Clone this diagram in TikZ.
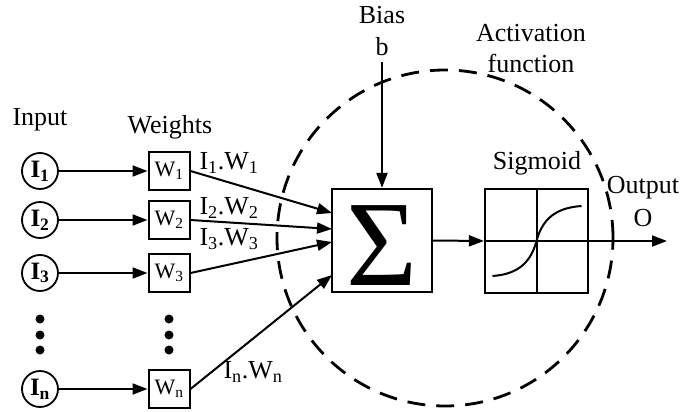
\documentclass[tikz,border=0pt]{standalone}
\usepackage{fontspec}
\setmainfont{Liberation Serif}
\usetikzlibrary{arrows.meta,calc}
\begin{document}
\begin{tikzpicture}[x=1pt,y=-1pt,
  lbl/.style={font=\fontsize{26}{26}\selectfont, inner sep=0pt},
  inp/.style={circle, draw, line width=1.8pt, minimum size=36pt, inner sep=0pt, font=\fontsize{25}{25}\selectfont\bfseries},
  wbox/.style={draw, line width=2pt, minimum width=41pt, minimum height=38pt, inner sep=0pt, font=\fontsize{22}{22}\selectfont},
  bigbox/.style={draw, line width=2.2pt, minimum width=100pt, minimum height=103pt, inner sep=0pt},
  arr/.style={line width=2pt, -{Triangle[length=15pt,width=11pt]}},
  dotnode/.style={circle, fill, minimum size=9pt, inner sep=0pt},
  dashcirc/.style={line width=2.8pt, dash pattern=on 18pt off 11pt}
]
\useasboundingbox (0,0) rectangle (680,412);

% dashed activation circle
\draw[dashcirc] (445,238) circle [radius=168pt];

% labels
\node[lbl] (linput) at (40,120) {Input};
\node[lbl] (lweights) at (170,127) {Weights};
\node[lbl] (lbias) at (382,15) {Bias};
\node[lbl] (lb) at (382,47) {b};
\node[lbl] (lact) at (531,33) {Activation};
\node[lbl] (lfun) at (531,63) {function};
\node[lbl] (lsig) at (537,163) {Sigmoid};
\node[lbl] (lout) at (643,188) {Output};
\node[lbl] (lo) at (643,218) {O};

% inputs
\node[inp] (i1) at (40,171) {I\textsubscript{1}};
\node[inp] (i2) at (40,220) {I\textsubscript{2}};
\node[inp] (i3) at (40,273) {I\textsubscript{3}};
\node[inp] (in) at (40,389) {I\textsubscript{n}};

% weights
\node[wbox] (w1) at (169,171) {W\textsubscript{1}};
\node[wbox] (w2) at (169,220) {W\textsubscript{2}};
\node[wbox] (w3) at (169,273) {W\textsubscript{3}};
\node[wbox] (wn) at (169,389) {W\textsubscript{n}};

% dots
\node[dotnode] (d1) at (40,319) {};
\node[dotnode] (d2) at (40,335) {};
\node[dotnode] (d3) at (40,350) {};
\node[dotnode] (e1) at (169,319) {};
\node[dotnode] (e2) at (169,335) {};
\node[dotnode] (e3) at (169,350) {};

% summation and sigmoid boxes
\node[bigbox] (sum) at (382,240.5) {};
\node[inner sep=0pt, font=\fontsize{122}{122}\selectfont] (sigma) at (382,246) {Σ};
\node[bigbox, minimum width=103pt, minimum height=104pt] (sig) at (536.5,241) {};

% input arrows
\draw[arr] (i1) -- (w1);
\draw[arr] (i2) -- (w2);
\draw[arr] (i3) -- (w3);
\draw[arr] (in) -- (wn);

% weighted connectors
\coordinate (t1) at (332,213);
\coordinate (t2) at (332,229);
\coordinate (t3) at (332,242);
\coordinate (tn) at (332,275);
\draw[arr] (w1.east) -- (t1);
\draw[arr] (w2.east) -- (t2);
\draw[arr] (w3.east) -- (t3);
\draw[arr] (wn.east) -- (tn);

\node[lbl] (l1) at (229,163) {I\textsubscript{1}.W\textsubscript{1}};
\node[lbl] (l2) at (229,208) {I\textsubscript{2}.W\textsubscript{2}};
\node[lbl] (l3) at (229,239) {I\textsubscript{3}.W\textsubscript{3}};
\node[lbl] (ln) at (253,372) {I\textsubscript{n}.W\textsubscript{n}};

% bias
\coordinate (bt) at (382,62);
\draw[arr] (bt) -- (sum.north);

% sum to sigmoid, output
\draw[arr] (sum.east) -- (sig.west);
\coordinate (oend) at (667,241);
\draw[arr] (sig.east) -- (oend);

% sigmoid internals
\draw[line width=2pt] (sig.north) -- (sig.south);
\draw[line width=2pt] (sig.west) -- (sig.east);
\draw[line width=2pt] ($(sig.center)+(-44,35)$) .. controls ($(sig.center)+(-15,33)$) and ($(sig.center)+(-5,18)$) .. (sig.center) .. controls ($(sig.center)+(5,-18)$) and ($(sig.center)+(15,-33)$) .. ($(sig.center)+(45,-35)$);
\end{tikzpicture}
\end{document}
